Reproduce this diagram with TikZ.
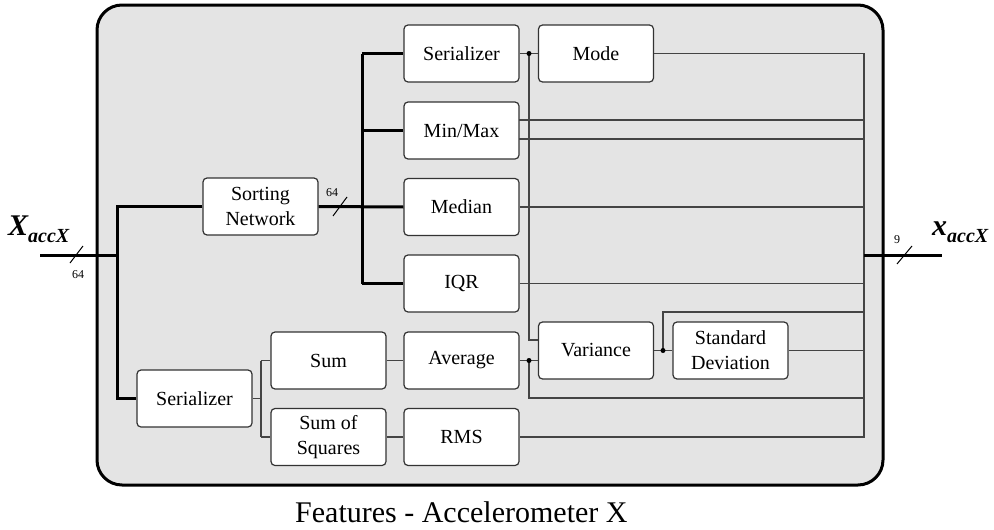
\documentclass[tikz,border=0pt]{standalone}
\usepackage{fontspec}
\setmainfont{Liberation Serif}
\usetikzlibrary{calc}

\definecolor{panel}{HTML}{E4E4E4}
\definecolor{wire}{HTML}{444444}
\definecolor{edge}{HTML}{333333}

\tikzset{
  blk/.style={draw=edge, fill=white, rounded corners=4pt, line width=1.2pt,
    minimum width=115pt, minimum height=57pt, align=center, inner sep=2pt,
    font=\fontsize{20}{25}\selectfont},
  wiring/.style={draw=wire, line width=1.1pt},
  bus/.style={draw=black, line width=3pt},
  jdot/.style={circle, fill=black, inner sep=0pt, minimum size=5pt},
  small/.style={font=\fontsize{12}{12}\selectfont, inner sep=0pt},
}

\begin{document}
\begin{tikzpicture}[x=1pt, y=-1pt]
\useasboundingbox (0,0) rectangle (994,530);

% housing
\draw[line width=3pt, fill=panel, rounded corners=25pt] (97,5) rectangle (883,485);

% blocks
\node[blk] (sn)   at (260.5,206.5) {Sorting\\Network};
\node[blk] (ser1) at (461.5,53.5)  {Serializer};
\node[blk] (mm)   at (461.5,130.5) {Min/Max};
\node[blk] (med)  at (461.5,207)   {Median};
\node[blk] (iqr)  at (461.5,283.5) {IQR};
\node[blk] (mode) at (596,53.5)    {Mode};
\node[blk] (var)  at (596,350.5)   {Variance};
\node[blk] (sd)   at (730.5,350.5) {Standard\\Deviation};
\node[blk] (ser2) at (194.5,398.5) {Serializer};
\node[blk] (sum)  at (328.5,360.5) {Sum};
\node[blk] (ssq)  at (328.5,437)   {Sum of\\Squares};
\node[blk] (avg)  at (461.5,360.5) {Average};
\node[blk] (rms)  at (461.5,437)   {RMS};

% reference points
\coordinate (in)   at (40,255);
\coordinate (split) at (117,255);
\coordinate (bsn)  at (362,0);
\coordinate (bsr)  at (261,0);
\coordinate (col)  at (864,0);
\coordinate (out)  at (942,255);
\coordinate (colin) at (864,255);
\coordinate (d1) at (529,53.5);
\coordinate (d2) at (529,360.5);
\coordinate (d3) at (663,350.5);
\coordinate (vin1) at (538,340);
\coordinate (vin2) at (538,360.5);
\coordinate (mmA) at (519,120);
\coordinate (mmB) at (519,139);
\coordinate (avgret) at (529,398);
\coordinate (varret) at (663,312);

% thin signal wiring
\draw[wiring] (ser1.east) -- (mode.west);
\draw[wiring] (d1) |- (vin1);
\draw[wiring] (avg.east) -- (vin2);
\draw[wiring] (d2) -- (avgret) -- (avgret -| col);
\draw[wiring] (var.east) -- (sd.west);
\draw[wiring] (d3) -- (varret) -- (varret -| col);
\draw[wiring] (sd.east) -- (sd.east -| col);
\draw[wiring] (mode.east) -- (mode.east -| col) -- (rms.east -| col) -- (rms.east);
\draw[wiring] (mmA) -- (mmA -| col);
\draw[wiring] (mmB) -- (mmB -| col);
\draw[wiring] (med.east) -- (med.east -| col);
\draw[wiring] (iqr.east) -- (iqr.east -| col);
\draw[wiring] (ser2.east) -- (ser2.east -| bsr);
\draw[wiring] (sum.west -| bsr) -- (ssq.west -| bsr);
\draw[wiring] (sum.west -| bsr) -- (sum.west);
\draw[wiring] (ssq.west -| bsr) -- (ssq.west);
\draw[wiring] (sum.east) -- (avg.west);
\draw[wiring] (ssq.east) -- (rms.west);

\node[jdot] at (d1) {};
\node[jdot] at (d2) {};
\node[jdot] at (d3) {};

% wide buses
\draw[bus] (in) -- (split);
\draw[bus] (sn.west) -- (sn.west -| split) -- (ser2.west -| split) -- (ser2.west);
\draw[bus] (sn.east) -- (med.west);
\draw[bus] (ser1.west -| bsn) -- (iqr.west -| bsn);
\draw[bus] (ser1.west -| bsn) -- (ser1.west);
\draw[bus] (mm.west -| bsn) -- (mm.west);
\draw[bus] (iqr.west -| bsn) -- (iqr.west);
\draw[bus] (colin) -- (out);

% bus width marks
\draw[line width=1pt] (76.5,254.5) +(-6.5,8.5) -- +(6.5,-8.5);
\draw[line width=1pt] (340,206.5) +(-7,9.5) -- +(7,-9.5);
\draw[line width=1pt] (904.5,255) +(-7.5,9) -- +(7.5,-9);
\node[small] (w1) at (78,275) {64};
\node[small] (w2) at (332,193) {64};
\node[small] (w3) at (897,240) {9};

% port names
\node[anchor=base west, inner sep=0pt] (lin) at (8,235)
  {\fontsize{30}{30}\selectfont\bfseries\itshape X\raisebox{-7pt}{\fontsize{20}{20}\selectfont accX}};
\node[anchor=base west, inner sep=0pt] (lout) at (932,235)
  {\fontsize{30}{30}\selectfont\bfseries\itshape x\raisebox{-7pt}{\fontsize{20}{20}\selectfont accX}};

% caption
\node[anchor=base west, inner sep=0pt, font=\fontsize{30}{30}\selectfont] (cap) at (295,522)
  {Features - Accelerometer X};
\end{tikzpicture}
\end{document}
